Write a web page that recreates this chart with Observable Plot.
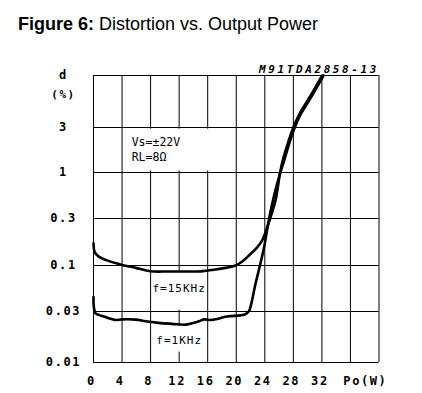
<!DOCTYPE html>
<html><head><meta charset="utf-8">
<script src="https://cdn.jsdelivr.net/npm/d3@7"></script>
<script src="https://cdn.jsdelivr.net/npm/@observablehq/plot@0.6"></script>
<style>
body{margin:0;background:#fff;width:422px;height:393px;overflow:hidden}
#title{position:relative;height:40px;font-family:"Liberation Sans",Arial,sans-serif;font-size:18px;color:#000}
#title span{position:absolute;left:18px;top:15px;line-height:18px;white-space:nowrap}
#chart svg{display:block}
</style></head>
<body>
<div id="title"><span><b>Figure 6:</b> Distortion vs. Output Power</span></div>
<div id="chart"></div>
<script>
// ---- data ----
const powerGrid = [0,4,8,12,16,20,24,28,32,36,40];
const powerLabels = [0,4,8,12,16,20,24,28,32];
const dGrid = [0.01,0.03,0.1,0.3,1,3,10];
const dLabels = ["0.01","0.03","0.1","0.3","1","3","d"];

const f15Power = [0,0.18,0.74,1.7,3.9,5.9,8.0,10.5,12.9,15.0,17.1,18.5,19.9,20.8,22.0,22.9,23.6,24.1,24.8,25.5,26.1,26.5,27.2,27.9,28.85,30.0,30.95,31.9,32.05];
const f15D =     [0.168,0.136,0.123,0.114,0.102,0.094,0.086,0.0855,0.0855,0.0858,0.090,0.094,0.1,0.109,0.131,0.152,0.178,0.218,0.31,0.48,0.95,1.33,2.0,2.88,4.1,5.6,7.3,9.6,10];

const f1Power = [0,0.05,0.28,0.75,1.45,2.4,3.1,4.0,5.9,7.3,9.1,11.0,12.9,13.8,14.8,15.5,16.4,17.1,18.7,20.6,21.3,21.8,22.1,22.7,23.3,23.9,24.6,25.3,26.1,26.7,27.4,28.1,29.05,30.2,31.15,32.1,32.2];
const f1D =     [0.0437,0.0336,0.0289,0.0279,0.0269,0.0256,0.025,0.0253,0.0252,0.0243,0.0235,0.023,0.0226,0.0233,0.0243,0.0253,0.025,0.0254,0.0269,0.0276,0.0284,0.0305,0.0366,0.062,0.0985,0.153,0.299,0.546,0.95,1.33,2.0,2.88,4.1,5.6,7.3,9.6,10];

const seriesNames = ["f=15KHz","f=1KHz"];
const seriesLabelPower = [12,12];
const seriesLabelD = [0.0548,0.016];
const condLines = ["Vs=±22V","RL=8Ω"];
const condPower = [5.35,5.35];
const condD = [2.11,1.44];
const figCode = ["M91TDA2858-13"];
const unitY = ["(%)"]; const unitYAt = [6.4];
const unitX = ["Po(W)"]; const unitXAt = [35];

// label boxes (white, cover the grid behind labels)
const boxX1 = [4.3,10,10], boxX2 = [19.6,14,14];
const boxY1 = [1.04,0.031,0.0125], boxY2 = [2.88,0.083,0.0218];

// ---- build ----
const rows = [
  ...f15Power.map((p,i)=>({p, d:f15D[i], s:seriesNames[0]})),
  ...f1Power.map((p,i)=>({p, d:f1D[i], s:seriesNames[1]}))
];
const boxes = boxX1.map((x1,i)=>({x1, x2:boxX2[i], y1:boxY1[i], y2:boxY2[i]}));

const chart = Plot.plot({
  width:422, height:353,
  marginLeft:93, marginRight:43.5, marginTop:35, marginBottom:31,
  x:{domain:[0,40]},
  y:{type:"log", domain:dGrid, range:[322,271,225,178,132,87,35]},
  style:{fontFamily:"'DejaVu Sans Mono', monospace", fontSize:"12px", color:"#000", background:"#fff"},
  marks:[
    Plot.ruleX(powerGrid, {stroke:"#000", strokeWidth:1}),
    Plot.ruleY(dGrid, {stroke:"#000", strokeWidth:1}),
    Plot.rect(boxes, {x1:"x1", x2:"x2", y1:"y1", y2:"y2", fill:"#fff"}),
    Plot.line(rows, {x:"p", y:"d", z:"s", stroke:"#000", strokeWidth:2.6, curve:"catmull-rom"}),
    Plot.axisX({ticks:powerLabels, tickSize:0, tickPadding:14, label:null, fontWeight:"bold", fontSize:12, dx:-2}),
    Plot.axisY({ticks:dGrid, tickFormat:d=>dLabels[dGrid.indexOf(d)], tickSize:0, tickPadding:30, textAnchor:"middle", label:null, fontWeight:"bold", fontSize:12}),
    Plot.text(unitX, {x:(d,i)=>unitXAt[i], frameAnchor:"bottom", dy:14, lineAnchor:"top", textAnchor:"start", fontWeight:"bold", fontSize:12}),
    Plot.text(unitY, {y:(d,i)=>unitYAt[i], frameAnchor:"left", dx:-30, textAnchor:"middle", fontWeight:"bold", fontSize:11}),
    Plot.text(seriesNames, {x:(d,i)=>seriesLabelPower[i], y:(d,i)=>seriesLabelD[i], fontSize:11}),
    Plot.text(condLines, {x:(d,i)=>condPower[i], y:(d,i)=>condD[i], textAnchor:"start", fontSize:11.5}),
    Plot.text(figCode, {frameAnchor:"top-right", dy:-10, textAnchor:"end", fontSize:11, fontStyle:"italic", fontWeight:"bold"})
  ]
});
// letter spacing to mimic the plotter lettering
const tickTexts = new Set([...powerLabels.map(String), ...dLabels, ...unitX, ...unitY]);
d3.select(chart).selectAll("text").each(function(){
  const t = this.textContent;
  if (t === figCode[0]) this.style.letterSpacing = "2.6px";
  else if (seriesNames.includes(t)) this.style.letterSpacing = "1px";
  else if (tickTexts.has(t)) this.style.letterSpacing = "1.6px";
});
document.getElementById("chart").appendChild(chart);
</script>
</body></html>
